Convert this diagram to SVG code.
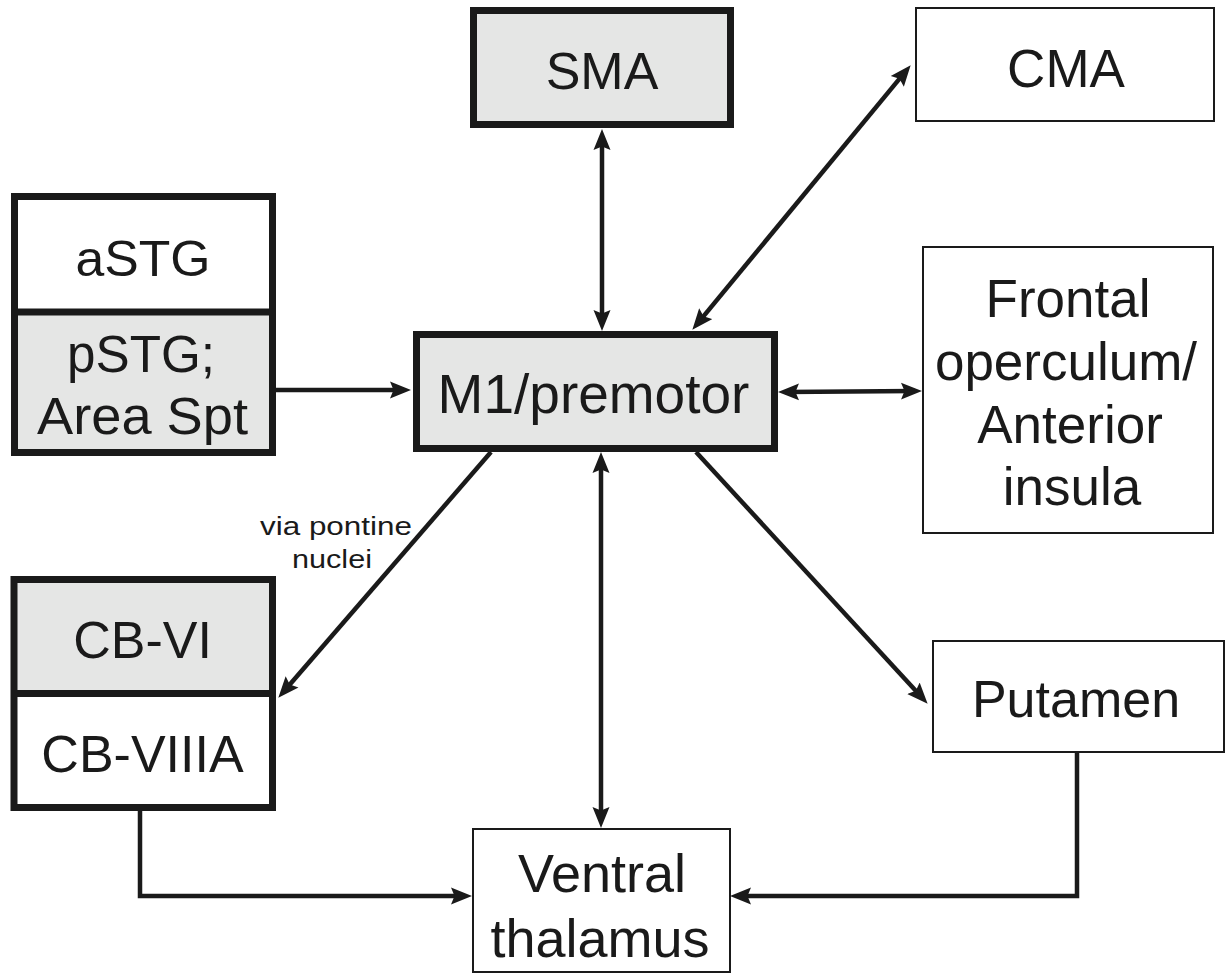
<svg xmlns="http://www.w3.org/2000/svg" width="1227" height="975" viewBox="0 0 1227 975">
<style>
.thick{stroke:#1a1a1a;stroke-width:7;fill:none}
.thin{stroke:#1a1a1a;stroke-width:2;fill:#fff}
.gray{fill:#e5e6e5}
.white{fill:#fff}
.t{font-family:"Liberation Sans",Arial,sans-serif;fill:#1a1a1a;text-anchor:middle}
.c{stroke:#1a1a1a;stroke-width:4.5;fill:none}
</style>
<defs>
<marker id="ah" markerUnits="userSpaceOnUse" markerWidth="22" markerHeight="18" viewBox="0 0 22 18" refX="14" refY="9" orient="auto-start-reverse">
<path d="M0,0.5 L21,9 L0,17.5 L3.5,9 Z" fill="#1a1a1a"/>
</marker>
</defs>
<rect width="1227" height="975" fill="#fff"/>
<g id="connectors">
<line class="c" x1="602" y1="136" x2="602" y2="324" marker-start="url(#ah)" marker-end="url(#ah)"/>
<line class="c" x1="696.8" y1="324.4" x2="906.2" y2="70.6" marker-start="url(#ah)" marker-end="url(#ah)"/>
<line class="c" x1="785" y1="392" x2="915" y2="391" marker-start="url(#ah)" marker-end="url(#ah)"/>
<line class="c" x1="276" y1="390" x2="404" y2="390" marker-end="url(#ah)"/>
<line class="c" x1="491" y1="452" x2="282.9" y2="692.5" marker-end="url(#ah)"/>
<line class="c" x1="601" y1="459" x2="601" y2="821" marker-start="url(#ah)" marker-end="url(#ah)"/>
<line class="c" x1="696" y1="452" x2="922.9" y2="698.6" marker-end="url(#ah)"/>
<polyline class="c" points="140,810 140,896 465,896" marker-end="url(#ah)"/>
<polyline class="c" points="1077,753 1077,896 737,896" marker-end="url(#ah)"/>
<text class="t" x="336" y="535" font-size="25" textLength="152" lengthAdjust="spacingAndGlyphs">via pontine</text>
<text class="t" x="332" y="568" font-size="25" textLength="80" lengthAdjust="spacingAndGlyphs">nuclei</text>
</g>
<g id="sma">
<rect class="gray" x="473.5" y="10.5" width="257" height="114"/>
<rect class="thick" x="473.5" y="10.5" width="257" height="114"/>
<text class="t" x="602" y="89" font-size="52">SMA</text>
</g>
<g id="cma">
<rect class="thin" x="916" y="8" width="298" height="113"/>
<text class="t" x="1066" y="87" font-size="53">CMA</text>
</g>
<g id="stg">
<rect class="white" x="14.5" y="196.5" width="258" height="115.5"/>
<rect class="gray" x="14.5" y="312" width="258" height="140.5"/>
<rect class="thick" x="14.5" y="196.5" width="258" height="256"/>
<line class="thick" x1="14.5" y1="312" x2="272.5" y2="312"/>
<text class="t" x="143" y="276" font-size="50" textLength="135" lengthAdjust="spacingAndGlyphs">aSTG</text>
<text class="t" x="141" y="372" font-size="51" textLength="148" lengthAdjust="spacingAndGlyphs">pSTG;</text>
<text class="t" x="142.5" y="434" font-size="51" textLength="211" lengthAdjust="spacingAndGlyphs">Area Spt</text>
</g>
<g id="m1">
<rect class="gray" x="416.5" y="334.5" width="358" height="114"/>
<rect class="thick" x="416.5" y="334.5" width="358" height="114"/>
<text class="t" x="593.5" y="413" font-size="55">M1/premotor</text>
</g>
<g id="frontal">
<rect class="thin" x="923" y="247" width="290" height="286"/>
<text class="t" x="1068" y="317" font-size="53">Frontal</text>
<text class="t" x="1066" y="380" font-size="53">operculum/</text>
<text class="t" x="1070" y="443" font-size="53">Anterior</text>
<text class="t" x="1072" y="505" font-size="53">insula</text>
</g>
<g id="cb">
<rect class="gray" x="14" y="579.5" width="258.5" height="114"/>
<rect class="white" x="14" y="693.5" width="258.5" height="114"/>
<rect class="thick" x="14" y="579.5" width="258.5" height="228"/>
<line class="thick" x1="14" y1="693.5" x2="272.5" y2="693.5"/>
<text class="t" x="142.5" y="658" font-size="52">CB-VI</text>
<text class="t" x="142.5" y="772" font-size="52">CB-VIIIA</text>
</g>
<g id="putamen">
<rect class="thin" x="933" y="641" width="291" height="111"/>
<text class="t" x="1076" y="717" font-size="52">Putamen</text>
</g>
<g id="ventral">
<rect class="thin" x="473" y="829" width="257" height="143"/>
<text class="t" x="602" y="892" font-size="54">Ventral</text>
<text class="t" x="600" y="957" font-size="54">thalamus</text>
</g>
</svg>
